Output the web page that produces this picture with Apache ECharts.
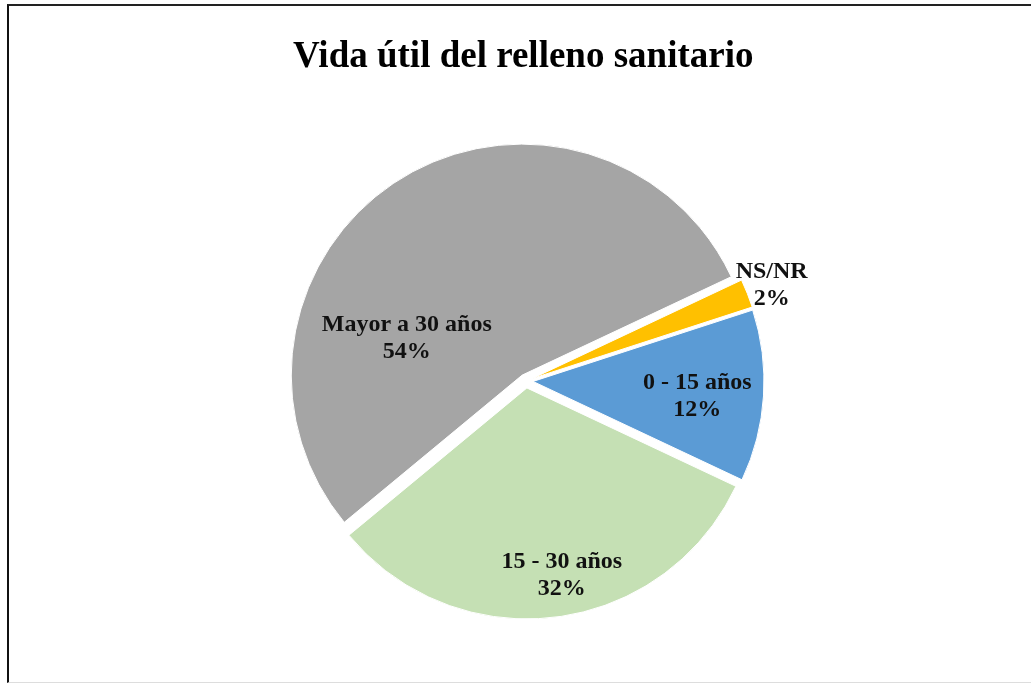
<!DOCTYPE html>
<html>
<head>
<meta charset="utf-8">
<script src="https://cdn.jsdelivr.net/npm/echarts@6/dist/echarts.min.js"></script>
<style>
  html, body { margin: 0; padding: 0; background: #fff; }
  #frame {
    position: absolute; left: 7px; top: 4px; width: 1024px; height: 679px;
    border-left: 2px solid #111; border-top: 2px solid #222;
    border-bottom: 1px solid #ddd; box-sizing: border-box;
  }
  #chart { position: absolute; left: 0; top: 0; width: 1031px; height: 685px; }
</style>
</head>
<body>
<div id="frame"></div>
<div id="chart"></div>
<script>
// datos del grafico
const categorias = ['0 - 15 años', '15 - 30 años', 'Mayor a 30 años', 'NS/NR']
const porcentajes = [12, 32, 54, 2]
const colores = ['#5B9BD5', '#C5E0B4', '#A5A5A5', '#FFC000']

// ajuste de etiquetas (como "mejor ajuste" de Excel)
const nudges = [[46, 7], [20, 70], [-52, 63], [129, -50]]

const chart = echarts.init(document.getElementById('chart'))

const option = {
  animation: false,
  title: {
    text: 'Vida útil del relleno sanitario',
    left: 288,
    top: 34,
    textStyle: {
      fontFamily: 'Liberation Serif',
      fontWeight: 'bold',
      fontSize: 37,
      color: '#000'
    }
  },
  series: [{
    type: 'pie',
    center: [526, 381],
    radius: 231,
    startAngle: 18,
    clockwise: true,
    selectedMode: 'multiple',
    selectedOffset: 7,
    silent: true,
    emphasis: { disabled: true },
    itemStyle: { borderColor: '#fff', borderWidth: 1 },
    label: {
      position: 'inside',
      formatter: p => p.name + '\n' + p.value + '%',
      fontFamily: 'Liberation Serif',
      fontWeight: 'bold',
      fontSize: 24,
      lineHeight: 27,
      color: '#111'
    },
    labelLine: { show: false },
    labelLayout: p => ({ dx: nudges[p.dataIndex][0], dy: nudges[p.dataIndex][1] }),
    data: categorias.map((c, i) => ({
      name: c,
      value: porcentajes[i],
      selected: true,
      itemStyle: { color: colores[i] },
      select: { itemStyle: { color: colores[i], borderColor: '#fff', borderWidth: 1 } }
    }))
  }]
}
chart.setOption(option)
</script>
</body>
</html>
